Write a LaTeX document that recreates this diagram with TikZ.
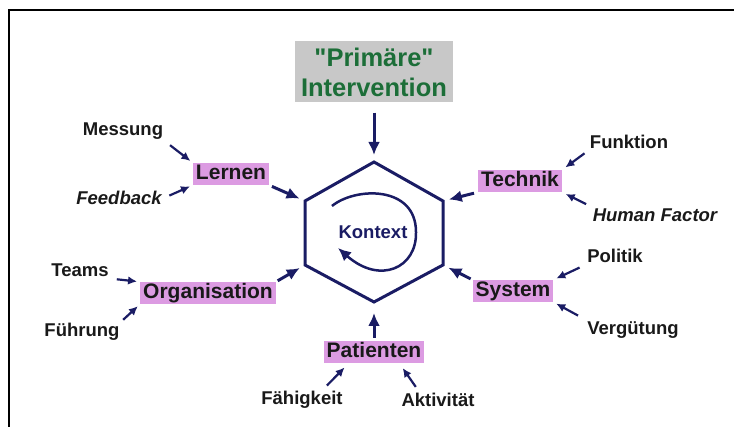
\documentclass[tikz,border=0pt]{standalone}
\usepackage{fontspec}
\setmainfont{Liberation Sans}[Ligatures=TeXOff]
\usetikzlibrary{calc, positioning, arrows.meta}
\definecolor{Navy}{RGB}{26,28,100}
\definecolor{Pinkbox}{RGB}{220,155,226}
\definecolor{Greytop}{RGB}{200,200,200}
\definecolor{Greentext}{RGB}{28,110,56}

\begin{document}
\begin{tikzpicture}[
  x=1pt, y=-1pt,
  mainbox/.style={fill=Pinkbox, text=black!90, font=\fontsize{21}{24}\selectfont\bfseries,
    inner xsep=3pt, inner ysep=1.5pt, text height=15pt, text depth=4pt},
  factor/.style={font=\fontsize{18.5}{22}\selectfont\bfseries, inner sep=2pt, text=black!90},
  bigarr/.style={draw=Navy, line width=3pt, -{Latex[length=13pt,width=12pt]}},
  smallarr/.style={draw=Navy, line width=2.2pt, -{Latex[length=9pt,width=8.5pt]}}
]
\useasboundingbox (0,0) rectangle (734,427);

% frame
\draw[line width=1.5pt] (9,427) -- (9,10) -- (734,10);

% hexagon
\coordinate (hex-n)  at (374,162);
\coordinate (hex-ne) at (443,201);
\coordinate (hex-se) at (443,265);
\coordinate (hex-s)  at (374,302);
\coordinate (hex-sw) at (305,265);
\coordinate (hex-nw) at (305,201);
\draw[Navy, line width=3pt] (hex-n) -- (hex-ne) -- (hex-se) -- (hex-s) -- (hex-sw) -- (hex-nw) -- cycle;

\node[font=\fontsize{18.5}{22}\selectfont\bfseries, text=Navy] (kontext) at (373,232) {Kontext};
\draw[Navy, line width=2.5pt, -{Latex[length=13pt,width=12pt]}]
  (332,206) .. controls (355,187) and (416,185) .. (416,232)
  .. controls (417,268) and (380,285) .. (338,248);

% top box
\node[fill=Greytop, text=Greentext, font=\fontsize{25.5}{30}\selectfont\bfseries, align=center,
  minimum width=158pt, minimum height=61pt, inner sep=0pt] (prim) at (374,72) {"Primäre"\\Intervention};

% main factors
\node[mainbox] (lernen)     at (231,174) {Lernen};
\node[mainbox] (technik)    at (520,181) {Technik};
\node[mainbox] (orga)       at (208,293) {Organisation};
\node[mainbox] (system)     at (513,291) {System};
\node[mainbox] (patienten)  at (374,352) {Patienten};

% sub factors
\node[factor] (messung)    at (123,131) {Messung};
\node[factor, font=\fontsize{18.5}{22}\selectfont\bfseries\itshape] (feedback) at (119,198) {Feedback};
\node[factor] (funktion)   at (629,142) {Funktion};
\node[factor, font=\fontsize{18.5}{22}\selectfont\bfseries\itshape] (human) at (655,215) {Human Factor};
\node[factor] (teams)      at (80,270) {Teams};
\node[factor] (fuehrung)   at (82,332) {Führung};
\node[factor] (politik)    at (615,256) {Politik};
\node[factor] (verguetung) at (633,330) {Vergütung};
\node[factor] (faehigkeit) at (302,400) {Fähigkeit};
\node[factor] (aktivitaet) at (438,400) {Aktivität};

% arrows into the hexagon
\draw[bigarr, shorten <=10pt, shorten >=7pt] (prim.south) -- (hex-n);
\draw[bigarr, shorten <=3pt, shorten >=6pt] (lernen.south east) -- (hex-nw);
\draw[bigarr, shorten <=4pt, shorten >=6pt] (technik.south west) -- (hex-ne);
\draw[bigarr, shorten <=2pt, shorten >=6pt] (orga.north east) -- (hex-sw);
\draw[bigarr, shorten <=2pt, shorten >=6pt] (system.north west) -- (hex-se);
\draw[bigarr, shorten <=3pt, shorten >=11pt] (patienten.north) -- (hex-s);

% arrows into the factors
\draw[smallarr, shorten <=6pt, shorten >=3pt] (messung.south east) -- (lernen.north west);
\draw[smallarr, shorten <=6pt, shorten >=3pt] (feedback.east) -- (lernen.south west);
\draw[smallarr, shorten <=4pt, shorten >=4pt] (funktion.south west) -- (technik.north east);
\draw[smallarr, shorten <=5pt, shorten >=4pt] (human.north west) -- (technik.south east);
\draw[smallarr, shorten <=6pt, shorten >=3pt] (teams.south east) -- (orga.north west);
\draw[smallarr, shorten <=2pt, shorten >=3pt] (fuehrung.north east) -- (orga.south west);
\draw[smallarr, shorten <=6pt, shorten >=3pt] (politik.south west) -- (system.north east);
\draw[smallarr, shorten <=8pt, shorten >=3pt] (verguetung.north west) -- (system.south east);
\draw[smallarr, shorten <=5pt, shorten >=6pt] ($(faehigkeit.north)!0.5!(faehigkeit.north east)$) -- ($(patienten.south west)!0.25!(patienten.south east)$);
\draw[smallarr, shorten <=5pt, shorten >=6pt] ($(aktivitaet.north west)!0.5!(aktivitaet.north)$) -- ($(patienten.south west)!0.75!(patienten.south east)$);
\end{tikzpicture}
\end{document}
